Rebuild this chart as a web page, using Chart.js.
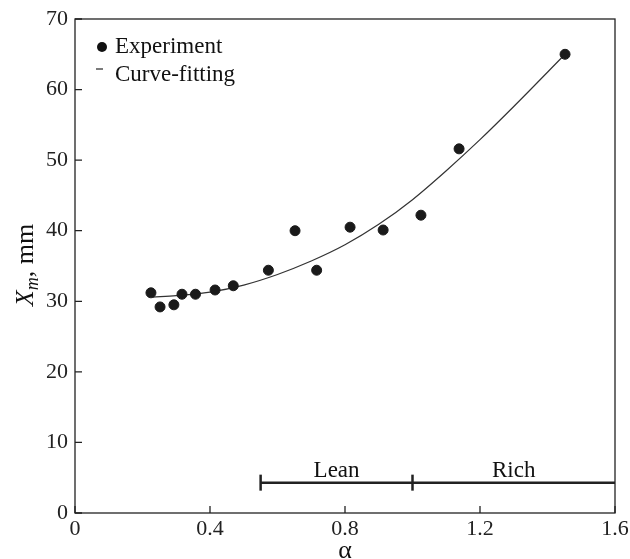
<!DOCTYPE html>
<html>
<head>
<meta charset="utf-8">
<script src="https://cdn.jsdelivr.net/npm/chart.js@4.4.1/dist/chart.umd.min.js"></script>
<style>
  html, body { margin: 0; padding: 0; background: #fff; }
  #wrap { width: 630px; height: 559px; }
</style>
</head>
<body>
<div id="wrap"><canvas id="grafico" width="630" height="559"></canvas></div>
<script>
// Puntos experimentales
const expAlpha = [0.225, 0.252, 0.293, 0.317, 0.357, 0.415, 0.469, 0.573, 0.652, 0.716, 0.815, 0.913, 1.025, 1.138, 1.452];
const expXm    = [31.2, 29.2, 29.5, 31.0, 31.0, 31.6, 32.2, 34.4, 40.0, 34.4, 40.5, 40.1, 42.2, 51.6, 65.0];

// Curva ajustada
const fitAlpha = [0.23, 0.3, 0.4, 0.5, 0.6, 0.7, 0.8, 0.9, 1.0, 1.1, 1.2, 1.3, 1.452];
const fitXm    = [30.6, 30.8, 31.3, 32.3, 33.8, 35.7, 38.0, 40.9, 44.4, 48.5, 52.9, 57.6, 65.0];

// Zonas pobre / rica
const bandEdges = [0.55, 1.0, 1.6];
const bandLabels = ['Lean', 'Rich'];
const bandLevel = 4.3;

// Ticks
const xTicks = [0, 0.4, 0.8, 1.2, 1.6];
const yTicks = [0, 10, 20, 30, 40, 50, 60, 70];

const serif = '"Liberation Serif", "DejaVu Serif", serif';

const marcoPlugin = {
    id: 'marco',
    afterDraw(chart) {
        const ctx = chart.ctx;
        const a = chart.chartArea;
        const xs = chart.scales.x, ys = chart.scales.y;
        ctx.save();
        // marco
        ctx.strokeStyle = '#222';
        ctx.lineWidth = 1.3;
        ctx.strokeRect(a.left, a.top, a.right - a.left, a.bottom - a.top);
        // ticks hacia dentro
        ctx.beginPath();
        xTicks.forEach(v => {
            const px = xs.getPixelForValue(v);
            ctx.moveTo(px, a.bottom);
            ctx.lineTo(px, a.bottom - 7);
        });
        yTicks.forEach(v => {
            const py = ys.getPixelForValue(v);
            ctx.moveTo(a.left, py);
            ctx.lineTo(a.left + 7, py);
        });
        ctx.stroke();

        // etiquetas Lean / Rich
        ctx.fillStyle = '#111';
        ctx.font = '23px ' + serif;
        ctx.textAlign = 'center';
        ctx.textBaseline = 'middle';
        const by = ys.getPixelForValue(bandLevel);
        bandLabels.forEach((t, i) => {
            const cx = (xs.getPixelForValue(bandEdges[i]) + xs.getPixelForValue(bandEdges[i + 1])) / 2;
            ctx.fillText(t, cx, by - 12);
        });

        // leyenda
        ctx.textAlign = 'left';
        ctx.beginPath();
        ctx.arc(a.left + 27, a.top + 28, 5, 0, Math.PI * 2);
        ctx.fill();
        ctx.fillText('Experiment', a.left + 40, a.top + 28);
        ctx.beginPath();
        ctx.lineWidth = 1.2;
        ctx.moveTo(a.left + 21, a.top + 50);
        ctx.lineTo(a.left + 28, a.top + 50);
        ctx.stroke();
        ctx.fillText('Curve-fitting', a.left + 40, a.top + 56);

        // titulo eje X: alfa
        ctx.textAlign = 'center';
        ctx.font = '26px ' + serif;
        ctx.fillText('α', (a.left + a.right) / 2, 551);

        // titulo eje Y: X_m, mm
        ctx.translate(33, 265);
        ctx.rotate(-Math.PI / 2);
        const f1 = 'italic 26px ' + serif, f2 = 'italic 18px ' + serif, f3 = '26px ' + serif;
        ctx.font = f1; const w1 = ctx.measureText('X').width;
        ctx.font = f2; const w2 = ctx.measureText('m').width;
        ctx.font = f3; const w3 = ctx.measureText(', mm').width;
        let x0 = -(w1 + w2 + w3) / 2;
        ctx.textAlign = 'left';
        ctx.textBaseline = 'alphabetic';
        ctx.font = f1; ctx.fillText('X', x0, 0);
        ctx.font = f2; ctx.fillText('m', x0 + w1, 5);
        ctx.font = f3; ctx.fillText(', mm', x0 + w1 + w2, 0);
        ctx.restore();
    }
};

const ctx = document.getElementById('grafico').getContext('2d');
new Chart(ctx, {
    type: 'scatter',
    data: {
        datasets: [
            {
                label: 'Experiment',
                data: expAlpha.map((v, i) => ({ x: v, y: expXm[i] })),
                backgroundColor: '#1a1a1a',
                borderColor: '#1a1a1a',
                pointRadius: 5,
                order: 1
            },
            {
                label: 'Curve-fitting',
                data: fitAlpha.map((v, i) => ({ x: v, y: fitXm[i] })),
                showLine: true,
                borderColor: '#333',
                borderWidth: 1.2,
                pointRadius: 0,
                cubicInterpolationMode: 'monotone',
                order: 2
            },
            {
                label: 'zonas',
                data: bandEdges.map(v => ({ x: v, y: bandLevel })),
                showLine: true,
                borderColor: '#222',
                borderWidth: 2.5,
                pointStyle: 'line',
                rotation: 90,
                pointRadius: [8, 8, 0],
                pointBorderWidth: 2.5,
                pointBorderColor: '#222',
                order: 3
            }
        ]
    },
    options: {
        responsive: false,
        animation: false,
        layout: { padding: { left: 0, right: 15, top: 19, bottom: 0 } },
        plugins: { legend: { display: false }, tooltip: { enabled: false } },
        scales: {
            x: {
                type: 'linear',
                min: 0, max: 1.6,
                afterBuildTicks: s => { s.ticks = xTicks.map(v => ({ value: v })); },
                afterFit: s => { s.height = 46; s.paddingLeft = 0; s.paddingRight = 0; },
                grid: { display: false, drawTicks: false },
                border: { display: false },
                ticks: {
                    color: '#222',
                    font: { family: serif, size: 22 },
                    padding: 3,
                    maxRotation: 0,
                    callback: v => v === 0 ? '0' : v.toFixed(1)
                }
            },
            y: {
                type: 'linear',
                min: 0, max: 70,
                afterBuildTicks: s => { s.ticks = yTicks.map(v => ({ value: v })); },
                afterFit: s => { s.width = 75; s.paddingTop = 0; s.paddingBottom = 0; },
                grid: { display: false, drawTicks: false },
                border: { display: false },
                ticks: {
                    color: '#222',
                    font: { family: serif, size: 22 },
                    padding: 7
                }
            }
        }
    },
    plugins: [marcoPlugin]
});
</script>
</body>
</html>
